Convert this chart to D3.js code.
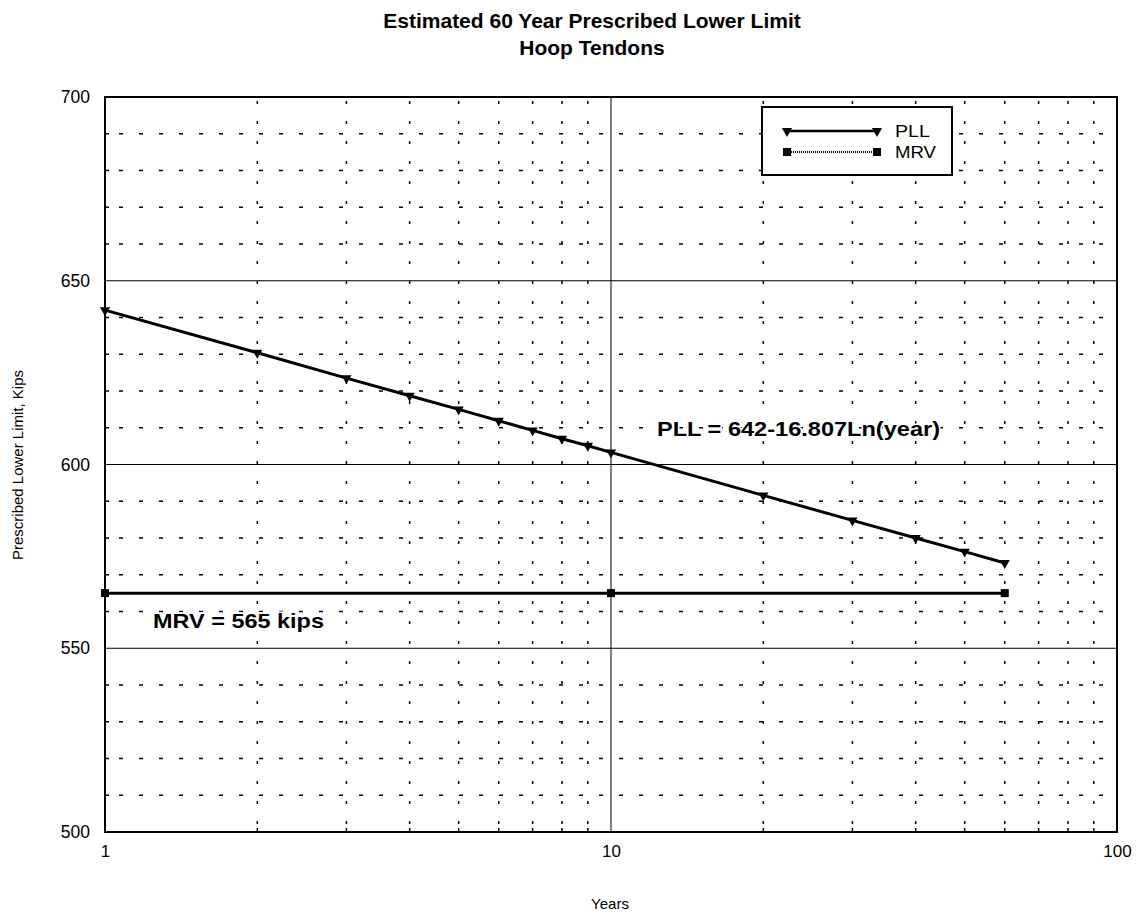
<!DOCTYPE html>
<meta charset="utf-8">
<style>
body{
	margin:0;
	background:#fff;
	font-family:"Liberation Sans",Arial,helvetica;
}
</style>
<script src="https://cdn.jsdelivr.net/npm/d3@7"></script>
<div id="chart"></div>
<script>

// values
var pllYears = [1,2,3,4,5,6,7,8,9,10,20,30,40,50,60]
var pllValues = [642,630.4,623.5,618.7,615.0,611.9,609.3,607.0,605.1,603.3,591.6,584.8,580.0,576.3,573.2]
var mrvYears = [1,10,60]
var mrvValues = [565,565,565]
var yTicks = [500,550,600,650,700]
var xTicks = [1,10,100]

var W = 1142, H = 923
var plotL = 105, plotR = 1117, plotT = 97, plotB = 832

var svg = d3.select("#chart").append("svg").attr("width",W).attr("height",H)

var x = d3.scaleLog().domain([1,100]).range([plotL,plotR])
var y = d3.scaleLinear().domain([500,700]).range([plotB,plotT])

// minor grid, dotted
var minorX = []
for (var d = 1; d < 100; d *= 10) for (var k = 2; k < 10; k++) minorX.push(d*k)
var minorY = d3.range(510,700,10).filter(function(v){ return v%50 != 0 })

svg.append("g").selectAll("line").data(minorY).enter().append("line")
	.attr("x1",plotL).attr("x2",plotR)
	.attr("y1",function(d){return y(d)}).attr("y2",function(d){return y(d)})
	.attr("stroke","#000").attr("stroke-width",1.5).attr("stroke-dasharray","4,16")
	.attr("stroke-dashoffset",-14)

svg.append("g").selectAll("line").data(minorX).enter().append("line")
	.attr("y1",plotB).attr("y2",plotT)
	.attr("x1",function(d){return x(d)}).attr("x2",function(d){return x(d)})
	.attr("stroke","#000").attr("stroke-width",1.5).attr("stroke-dasharray","3,17")
	.attr("stroke-dashoffset",-8)

// major grid
svg.append("g").selectAll("line").data([550,600,650]).enter().append("line")
	.attr("x1",plotL).attr("x2",plotR)
	.attr("y1",function(d){return y(d)}).attr("y2",function(d){return y(d)})
	.attr("stroke","#000").attr("stroke-width",1)
svg.append("line").attr("x1",x(10)).attr("x2",x(10)).attr("y1",plotT).attr("y2",plotB)
	.attr("stroke","#000").attr("stroke-width",1)

// frame
svg.append("rect").attr("x",plotL).attr("y",plotT).attr("width",plotR-plotL).attr("height",plotB-plotT)
	.attr("fill","none").attr("stroke","#000").attr("stroke-width",2)

// axes, labels only
var yAxis = d3.axisLeft(y).tickValues(yTicks).tickSize(0).tickPadding(15)
svg.append("g").attr("transform","translate("+plotL+",0)").call(yAxis)
	.call(function(g){ g.select(".domain").remove() })
	.selectAll("text").attr("font-size",17.5).attr("font-family","Liberation Sans, Arial")
var xAxis = d3.axisBottom(x).tickValues(xTicks).tickFormat(d3.format("d")).tickSize(0).tickPadding(13)
svg.append("g").attr("transform","translate(0,"+plotB+")").call(xAxis)
	.call(function(g){ g.select(".domain").remove() })
	.selectAll("text").attr("font-size",17).attr("font-family","Liberation Sans, Arial")

// small ticks on the axes
svg.append("g").selectAll("line").data(minorY).enter().append("line")
	.attr("x1",plotL).attr("x2",plotL+4)
	.attr("y1",function(d){return y(d)}).attr("y2",function(d){return y(d)})
	.attr("stroke","#000").attr("stroke-width",1.5)
svg.append("g").selectAll("line").data(minorX).enter().append("line")
	.attr("y1",plotB).attr("y2",plotB-4)
	.attr("x1",function(d){return x(d)}).attr("x2",function(d){return x(d)})
	.attr("stroke","#000").attr("stroke-width",1.5)

// series
var line = d3.line().x(function(d){return x(d[0])}).y(function(d){return y(d[1])})
var pll = pllYears.map(function(v,i){ return [v,pllValues[i]] })
var mrv = mrvYears.map(function(v,i){ return [v,mrvValues[i]] })

svg.append("path").datum(mrv).attr("d",line).attr("fill","none")
	.attr("stroke","#000").attr("stroke-width",3)
svg.append("g").selectAll("rect").data(mrv).enter().append("rect")
	.attr("x",function(d){return x(d[0])-4}).attr("y",function(d){return y(d[1])-4})
	.attr("width",8).attr("height",8).attr("fill","#000")

svg.append("path").datum(pll).attr("d",line).attr("fill","none")
	.attr("stroke","#000").attr("stroke-width",3)
var tri = d3.symbol().type(d3.symbolTriangle).size(45)
svg.append("g").selectAll("path").data(pll).enter().append("path")
	.attr("d",tri)
	.attr("transform",function(d){return "translate("+x(d[0])+","+y(d[1])+") rotate(180)"})
	.attr("fill","#000")

// legend
var lg = svg.append("g")
lg.append("rect").attr("x",762).attr("y",107).attr("width",190).attr("height",68)
	.attr("fill","#fff").attr("stroke","#000").attr("stroke-width",2)
lg.append("line").attr("x1",787).attr("x2",877).attr("y1",131).attr("y2",131)
	.attr("stroke","#000").attr("stroke-width",2.5)
lg.append("path").attr("d",tri).attr("transform","translate(787,131) rotate(180)")
lg.append("path").attr("d",tri).attr("transform","translate(877,131) rotate(180)")
lg.append("line").attr("x1",787).attr("x2",877).attr("y1",152).attr("y2",152)
	.attr("stroke","#000").attr("stroke-width",2).attr("stroke-dasharray","1,1")
lg.append("rect").attr("x",783).attr("y",148).attr("width",8).attr("height",8)
lg.append("rect").attr("x",873).attr("y",148).attr("width",8).attr("height",8)
lg.append("text").attr("x",895).attr("y",137).text("PLL").attr("font-size",17)
	.attr("textLength",35).attr("lengthAdjust","spacingAndGlyphs")
lg.append("text").attr("x",895).attr("y",158).text("MRV").attr("font-size",17)
	.attr("textLength",41).attr("lengthAdjust","spacingAndGlyphs")

// annotations
svg.append("text").attr("x",657).attr("y",436).text("PLL = 642-16.807Ln(year)")
	.attr("font-size",21).attr("font-weight","bold")
	.attr("textLength",283).attr("lengthAdjust","spacingAndGlyphs")
	.attr("stroke","#fff").attr("stroke-width",3).attr("paint-order","stroke")
svg.append("text").attr("x",153).attr("y",628).text("MRV = 565 kips")
	.attr("font-size",21).attr("font-weight","bold")
	.attr("textLength",171).attr("lengthAdjust","spacingAndGlyphs")
	.attr("stroke","#fff").attr("stroke-width",3).attr("paint-order","stroke")

// titles
svg.append("text").attr("x",592).attr("y",28).attr("text-anchor","middle")
	.attr("font-size",21).attr("font-weight","bold").text("Estimated 60 Year Prescribed Lower Limit")
svg.append("text").attr("x",592).attr("y",55).attr("text-anchor","middle")
	.attr("font-size",21).attr("font-weight","bold").text("Hoop Tendons")
svg.append("text").attr("x",610).attr("y",909).attr("text-anchor","middle")
	.attr("font-size",15).text("Years")
svg.append("text").attr("transform","translate(23,465) rotate(-90)").attr("text-anchor","middle")
	.attr("font-size",15).text("Prescribed Lower Limit, Kips")

</script>
